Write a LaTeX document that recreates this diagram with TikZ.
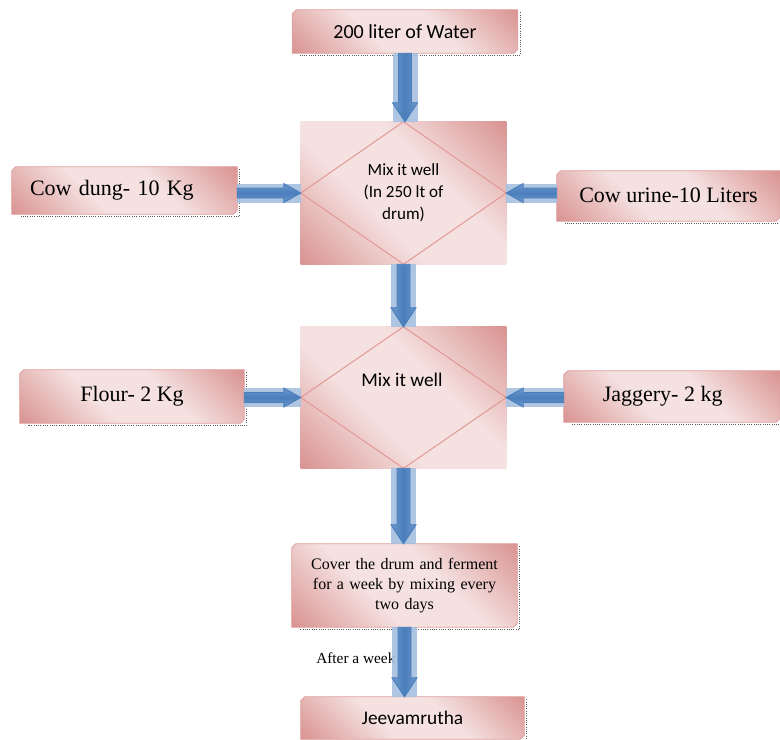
\documentclass[tikz,border=0pt]{standalone}
\usepackage{fontspec}
\setmainfont{Liberation Serif}
\newfontfamily\calib{Carlito}
\usetikzlibrary{calc}
\definecolor{plight}{HTML}{F4E1E0}
\definecolor{pdark}{HTML}{D8918F}
\definecolor{pline}{HTML}{DFA3A1}
\definecolor{diam}{HTML}{E39591}
\definecolor{bdark}{HTML}{4A7EBB}
\definecolor{bmid}{HTML}{6E98CC}
\definecolor{blight}{HTML}{A6C0E0}
\pgfdeclarehorizontalshading{pinkdiag}{100bp}{color(0bp)=(pdark); color(14bp)=(pdark); color(40bp)=(plight); color(60bp)=(plight); color(86bp)=(pdark); color(100bp)=(pdark)}
\pgfdeclarehorizontalshading{bluebar}{100bp}{color(0bp)=(bmid); color(25bp)=(bmid); color(50bp)=(bdark); color(75bp)=(bmid); color(100bp)=(bmid)}
\pgfdeclarelayer{bg}
\pgfsetlayers{bg,main}
\tikzset{
  boxtext/.style={inner sep=0pt, align=center},
  serifbig/.style={font=\fontsize{16.5}{19}\selectfont},
  sansmid/.style={font=\calib\fontsize{15}{18}\selectfont},
  boxfill/.style={shade, shading=pinkdiag, shading angle=45, draw=pline, line width=0.6pt},
  rectfill/.style={shade, shading=pinkdiag, shading angle=45},
  boxshadow/.style={draw=black!65, densely dotted, line width=0.7pt},
  diamline/.style={draw=diam, line width=0.7pt},
  bluesoft/.style={fill=blight, fill opacity=0.9},
  bluearrow/.style={shade, shading=bluebar, draw=bdark, line width=0.7pt, line join=miter},
}
\newcommand\pinkbox[1]{%
  \begin{pgfonlayer}{bg}
  \draw[boxshadow] ([xshift=2pt,yshift=-2pt]#1.north east) -- ([xshift=2pt,yshift=-1.5pt]#1.south east) -- ([xshift=6pt,yshift=-1.5pt]#1.south west);
  \path[boxfill] (#1.south west) -- ([yshift=-3pt]#1.north west) -- ([xshift=3pt]#1.north west) -- (#1.north east) -- ([yshift=3pt]#1.south east) -- ([xshift=-3pt]#1.south east) -- cycle;
  \end{pgfonlayer}}
\newcommand\mixbox[1]{%
  \begin{pgfonlayer}{bg}
  \path[rectfill] (#1.north west) rectangle (#1.south east);
  \draw[diamline] (#1.west) -- (#1.north) -- (#1.east) -- (#1.south) -- cycle;
  \end{pgfonlayer}}
\newcommand\varrow[2]{%
  \coordinate (vs) at (#1);
  \coordinate (ve) at (#1 |- #2);
  \fill[bluesoft] ($(vs)+(-12.5,0)$) rectangle ($(ve)+(12.5,0)$);
  \path[bluearrow] ($(vs)+(-6.5,0)$) -- ($(ve)+(-6.5,-19)$) -- ($(ve)+(-12.5,-19)$) -- (ve) -- ($(ve)+(12.5,-19)$) -- ($(ve)+(6.5,-19)$) -- ($(vs)+(6.5,0)$) -- cycle;}
\newcommand\harrow[3]{%
  \coordinate (hs) at (#1 |- #2);
  \coordinate (he) at (#2);
  \fill[bluesoft] ($(hs)+(0,-9.5)$) rectangle ($(he)+(0,9.5)$);
  \path[bluearrow, shading angle=90] ($(hs)+(0,-5)$) -- ($(he)+({-17*#3},-5)$) -- ($(he)+({-17*#3},-9.5)$) -- (he) -- ($(he)+({-17*#3},9.5)$) -- ($(he)+({-17*#3},5)$) -- ($(hs)+(0,5)$) -- cycle;}
\begin{document}
\begin{tikzpicture}[x=0.75pt,y=-0.75pt]
\useasboundingbox (0,0) rectangle (780,739);
% nodes
\node[boxtext, sansmid, minimum width=168.75pt, minimum height=32.25pt] (water) at (405,31.5) {200 liter of Water};
\node[boxtext, minimum width=153.75pt, minimum height=106.5pt, font=\calib\fontsize{12.8}{16.5}\selectfont] (mix1) at (403.5,193) {Mix it well\\(In 250 lt of\\drum)};
\node[boxtext, serifbig, align=left, text width=141.75pt, inner xsep=13.5pt, minimum height=35.25pt] (cowdung) at (124.5,190.5) {Cow dung- 10 Kg};
\node[boxtext, serifbig, minimum width=167.25pt, minimum height=37.5pt] (cowurine) at (668.5,196) {\raisebox{1.5pt}{Cow urine-10 Liters}};
\node[boxtext, minimum width=153.75pt, minimum height=105.75pt] (mix2) at (403.5,397.5) {};
\node[inner sep=0pt, font=\calib\fontsize{14.5}{17}\selectfont] (mix2text) at (402,380) {Mix it well};
\node[boxtext, serifbig, minimum width=168pt, minimum height=39.75pt] (flour) at (132,396.5) {Flour- 2 Kg};
\node[boxtext, serifbig, minimum width=162pt, minimum height=38.25pt] (jaggery) at (672,396.5) {\hspace*{-14pt}Jaggery- 2 kg};
\node[boxtext, minimum width=168.75pt, minimum height=62.25pt, text width=165pt, font=\fontsize{12}{15}\selectfont] (cover) at (404.5,585.5) {Cover the drum and ferment\\for a week by mixing every\\two days};
\node[boxtext, font=\calib\fontsize{14.5}{17}\selectfont, minimum width=167.25pt, minimum height=31.5pt] (jeev) at (412.5,718) {Jeevamrutha};
\node[inner sep=0pt, font=\fontsize{11.5}{14}\selectfont, anchor=west] (after) at (316,658) {After a week};
% backgrounds
\pinkbox{water}
\pinkbox{cowdung}
\pinkbox{cowurine}
\pinkbox{flour}
\pinkbox{jaggery}
\pinkbox{cover}
\pinkbox{jeev}
\mixbox{mix1}
\mixbox{mix2}
% connectors
\varrow{water.south}{mix1.north}
\varrow{mix1.south}{mix2.north}
\varrow{mix2.south}{cover.north}
\varrow{cover.south}{jeev.north}
\harrow{cowdung.east}{mix1.west}{1}
\harrow{cowurine.west}{mix1.east}{-1}
\harrow{flour.east}{mix2.west}{1}
\harrow{jaggery.west}{mix2.east}{-1}
\end{tikzpicture}
\end{document}
